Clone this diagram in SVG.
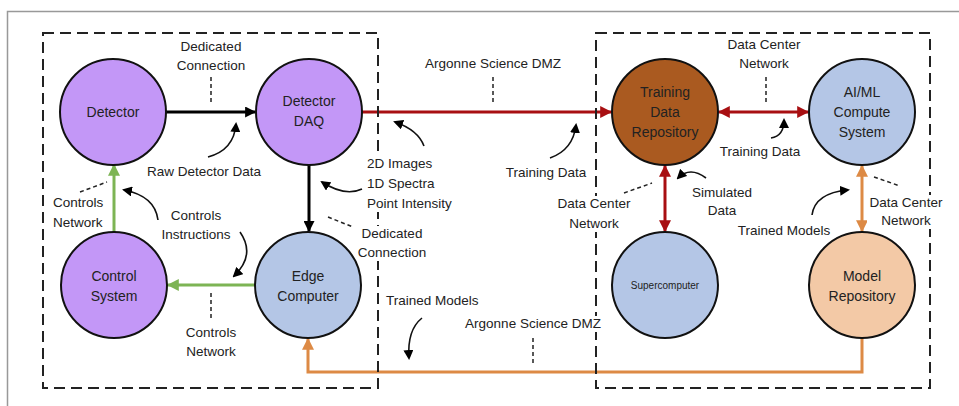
<svg xmlns="http://www.w3.org/2000/svg" width="959" height="406" viewBox="0 0 959 406">
<style>
text{font-family:"Liberation Sans",Arial,sans-serif;font-size:13.5px;fill:#222}
.n{font-size:14px;text-anchor:middle}
.c{text-anchor:middle}
.node{stroke:#111;stroke-width:2}
.box{fill:none;stroke:#222;stroke-width:2;stroke-dasharray:11 6}
.lead{fill:none;stroke:#222;stroke-width:1.5;stroke-dasharray:4 3}
.curve{fill:none;stroke:#111;stroke-width:1.6}
.bg{fill:#fff}
</style>
<defs>
<marker id="aK" viewBox="0 0 10 10" refX="9" refY="5" markerWidth="11" markerHeight="11" markerUnits="userSpaceOnUse" orient="auto-start-reverse"><path d="M0,0L10,5L0,10z" fill="#000"/></marker>
<marker id="aR" viewBox="0 0 10 10" refX="9" refY="5" markerWidth="12" markerHeight="12" markerUnits="userSpaceOnUse" orient="auto-start-reverse"><path d="M0,0L10,5L0,10z" fill="#A80F12"/></marker>
<marker id="aG" viewBox="0 0 10 10" refX="9" refY="5" markerWidth="12" markerHeight="12" markerUnits="userSpaceOnUse" orient="auto-start-reverse"><path d="M0,0L10,5L0,10z" fill="#7DB454"/></marker>
<marker id="aO" viewBox="0 0 10 10" refX="9" refY="5" markerWidth="12" markerHeight="12" markerUnits="userSpaceOnUse" orient="auto-start-reverse"><path d="M0,0L10,5L0,10z" fill="#DD8A45"/></marker>
<marker id="aC" viewBox="0 0 10 10" refX="8" refY="5" markerWidth="10" markerHeight="10" markerUnits="userSpaceOnUse" orient="auto"><path d="M0,0L10,5L0,10z" fill="#000"/></marker>
</defs>
<rect width="959" height="406" fill="#fff"/>
<path d="M7.5,406V11.5H959" fill="none" stroke="#999" stroke-width="1.5"/>

<g id="connectors">
<line x1="166" y1="112" x2="255" y2="112" stroke="#000" stroke-width="3" marker-end="url(#aK)"/>
<line x1="362" y1="112" x2="611" y2="112" stroke="#A80F12" stroke-width="3" marker-end="url(#aR)"/>
<line x1="719" y1="112" x2="808" y2="112" stroke="#A80F12" stroke-width="3" marker-start="url(#aR)" marker-end="url(#aR)"/>
<line x1="309" y1="165" x2="309" y2="231" stroke="#000" stroke-width="3" marker-end="url(#aK)"/>
<line x1="114" y1="232" x2="114" y2="165" stroke="#7DB454" stroke-width="3" marker-end="url(#aG)"/>
<line x1="255" y1="285" x2="168" y2="285" stroke="#7DB454" stroke-width="3" marker-end="url(#aG)"/>
<line x1="665" y1="166" x2="665" y2="231" stroke="#A80F12" stroke-width="3" marker-start="url(#aR)" marker-end="url(#aR)"/>
<line x1="862" y1="166" x2="862" y2="231" stroke="#DD8A45" stroke-width="3" marker-start="url(#aO)" marker-end="url(#aO)"/>
<path d="M862,338V372H308V339" fill="none" stroke="#DD8A45" stroke-width="3" marker-end="url(#aO)"/>
<line class="lead" x1="211" y1="77" x2="211" y2="104"/>
<line class="lead" x1="493" y1="77" x2="493" y2="104"/>
<line class="lead" x1="766" y1="77" x2="766" y2="104"/>
<line class="lead" x1="80" y1="192" x2="107" y2="182"/>
<line class="lead" x1="328" y1="217" x2="353" y2="227"/>
<line class="lead" x1="211" y1="293" x2="211" y2="320"/>
<line class="lead" x1="533" y1="338" x2="533" y2="365"/>
<line class="lead" x1="624" y1="193" x2="652" y2="183"/>
<line class="lead" x1="874" y1="177" x2="900" y2="186"/>
<path class="curve" d="M208,157Q234,150 236,124" marker-end="url(#aC)"/>
<path class="curve" d="M424,146Q418,130 395,122" marker-end="url(#aC)"/>
<path class="curve" d="M362,189Q345,197 322,182" marker-end="url(#aC)"/>
<path class="curve" d="M550,158Q573,150 576,125" marker-end="url(#aC)"/>
<path class="curve" d="M771,138Q784,136 784,120" marker-end="url(#aC)"/>
<path class="curve" d="M706,178Q690,166 678,178" marker-end="url(#aC)"/>
<path class="curve" d="M812,215Q815,193 848,190" marker-end="url(#aC)"/>
<path class="curve" d="M158,220Q155,196 124,190" marker-end="url(#aC)"/>
<path class="curve" d="M240,232Q256,255 234,276" marker-end="url(#aC)"/>
<path class="curve" d="M422,318Q407,330 409,358" marker-end="url(#aC)"/>
</g>

<rect class="box" x="43" y="33" width="335" height="355"/>
<rect class="box" x="596" y="33" width="334" height="355"/>
<rect class="bg" x="365" y="153" width="96" height="59"/>
<rect class="bg" x="355" y="226" width="76" height="35"/>
<rect class="bg" x="556" y="196" width="76" height="36"/>
<rect class="bg" x="464" y="316" width="140" height="16"/>
<rect class="bg" x="867" y="195" width="80" height="34"/>

<g id="detector"><circle class="node" cx="113" cy="112" r="53" fill="#C397F7"/><text class="n" x="113" y="117">Detector</text></g>
<g id="daq"><circle class="node" cx="309" cy="112" r="53" fill="#C397F7"/><text class="n" x="309" y="106">Detector</text><text class="n" x="309" y="126">DAQ</text></g>
<g id="control"><circle class="node" cx="114" cy="285" r="53" fill="#C397F7"/><text class="n" x="114" y="281">Control</text><text class="n" x="114" y="301">System</text></g>
<g id="edge"><circle class="node" cx="308" cy="285" r="53" fill="#B4C6E6"/><text class="n" x="308" y="281">Edge</text><text class="n" x="308" y="301">Computer</text></g>
<g id="training"><circle class="node" cx="665" cy="112" r="53" fill="#AA5A20"/><text class="n" x="665" y="97">Training</text><text class="n" x="665" y="117">Data</text><text class="n" x="665" y="137">Repository</text></g>
<g id="aiml"><circle class="node" cx="862" cy="112" r="53" fill="#B4C6E6"/><text class="n" x="862" y="97">AI/ML</text><text class="n" x="862" y="117">Compute</text><text class="n" x="862" y="137">System</text></g>
<g id="super"><circle class="node" cx="665" cy="285" r="53" fill="#B4C6E6"/><text class="n" x="665" y="289" style="font-size:10px">Supercomputer</text></g>
<g id="model"><circle class="node" cx="862" cy="285" r="53" fill="#F3C9A6"/><text class="n" x="862" y="281">Model</text><text class="n" x="862" y="301">Repository</text></g>

<g id="labels">
<text class="c" x="211" y="51">Dedicated</text><text class="c" x="211" y="70">Connection</text>
<text class="c" x="204" y="176">Raw Detector Data</text>
<text class="c" x="493" y="68">Argonne Science DMZ</text>
<text x="367" y="168">2D Images</text><text x="367" y="188">1D Spectra</text><text x="367" y="208">Point Intensity</text>
<text x="53" y="207">Controls</text><text x="53" y="227">Network</text>
<text class="c" x="196" y="220">Controls</text><text class="c" x="196" y="239">Instructions</text>
<text class="c" x="392" y="238">Dedicated</text><text class="c" x="392" y="257">Connection</text>
<text class="c" x="211" y="337">Controls</text><text class="c" x="211" y="356">Network</text>
<text x="386" y="305">Trained Models</text>
<text class="c" x="533" y="328">Argonne Science DMZ</text>
<text class="c" x="546" y="177">Training Data</text>
<text class="c" x="764" y="49">Data Center</text><text class="c" x="764" y="68">Network</text>
<text class="c" x="760" y="156">Training Data</text>
<text class="c" x="722" y="197">Simulated</text><text class="c" x="722" y="215">Data</text>
<text class="c" x="594" y="208">Data Center</text><text class="c" x="594" y="228">Network</text>
<text class="c" x="906" y="207">Data Center</text><text class="c" x="906" y="225">Network</text>
<text class="c" x="784" y="235">Trained Models</text>
</g>
</svg>
